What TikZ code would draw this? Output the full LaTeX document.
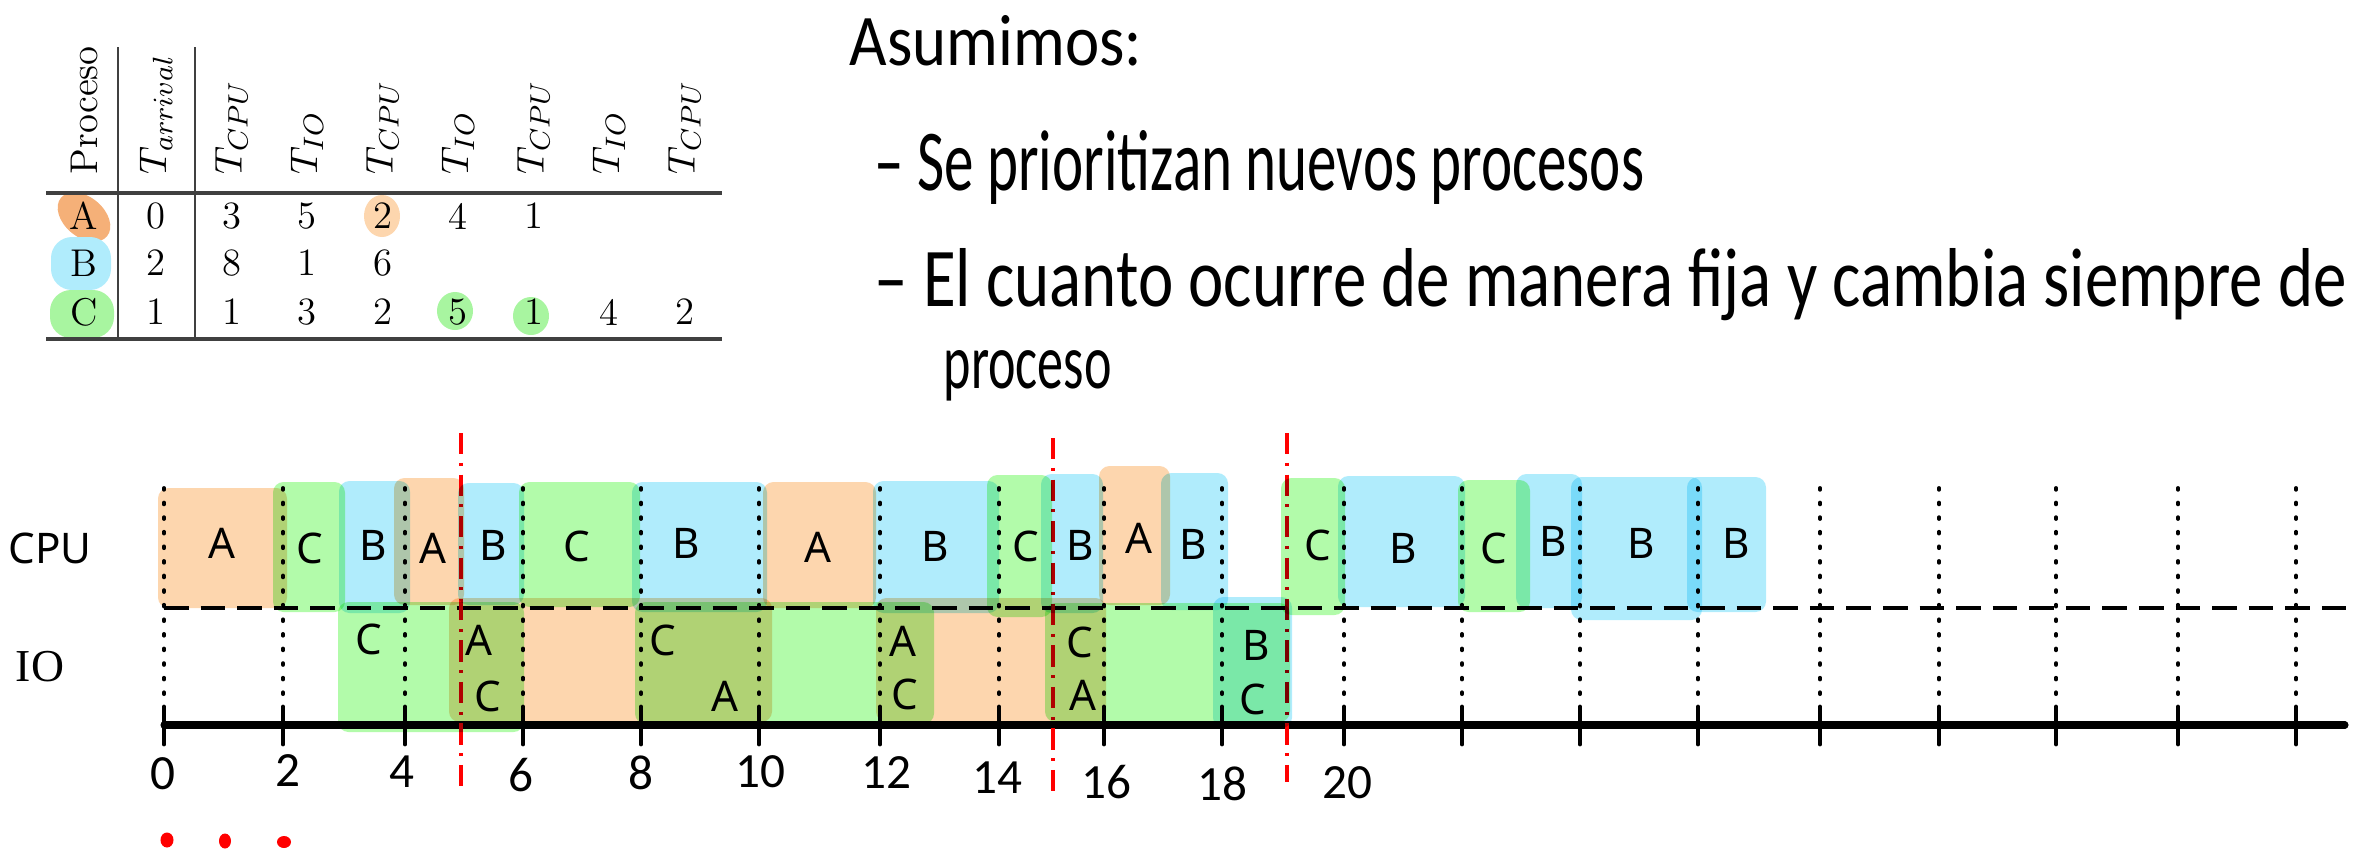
\documentclass[tikz,border=0pt]{standalone}
\usepackage{graphicx}
\usepackage{fontspec}
\newfontfamily\sansf{Noto Sans}
\newfontfamily\seriff{Liberation Serif}
\newfontfamily\handf{Carlito}
\definecolor{ora}{RGB}{253,214,174}
\definecolor{grn}{RGB}{178,251,170}
\definecolor{blu}{RGB}{176,236,252}
\definecolor{oradk}{RGB}{245,176,120}
\definecolor{grntab}{RGB}{168,245,160}

\begin{document}
\begin{tikzpicture}[x=0.01cm,y=-0.01cm,
        blk/.style={rounded corners=3pt,blend mode=multiply},
        lbl/.style={font=\sansf\fontsize{12}{14}\selectfont,inner sep=0pt},
        tab/.style={font=\fontsize{11}{13}\selectfont,inner sep=0pt},
        hand/.style={font=\handf,inner sep=0pt,anchor=base west},
        numlbl/.style={font=\handf\fontsize{14}{14}\selectfont,inner sep=0pt},
        dotline/.style={line width=1.1pt,line cap=round,dash pattern=on 0.5pt off 3.65pt},
        redline/.style={red,line width=1pt,dash pattern=on 6pt off 2.5pt on 0.8pt off 2.5pt}]
    \useasboundingbox (0,0) rectangle (2355,851);

    % tabla
    \fill[oradk,rotate around={-40:(84,217)}] (84,217) ellipse [x radius=0.3cm,y radius=0.2cm];
    \fill[blu,rounded corners=6pt] (51,237) rectangle (111,290);
    \fill[grntab,rounded corners=6pt] (50,290) rectangle (114,338);
    \fill[ora] (382,216) ellipse [x radius=0.18cm,y radius=0.21cm];
    \fill[grntab] (455,311) ellipse [x radius=0.18cm,y radius=0.19cm];
    \fill[grntab] (531,316) ellipse [x radius=0.18cm,y radius=0.19cm];
    \draw[line width=0.9pt,black!75] (46,193) -- (722,193) (46,339) -- (722,339);
    \draw[line width=0.5pt,black!75] (118,47) -- (118,340) (195,47) -- (195,340);
    \node[tab,rotate=90,anchor=west] (hproc) at (84,175) {Proceso};
    \node[tab,rotate=90,anchor=west] (harr) at (156,175) {$T_{arrival}$};
    \foreach \t [count=\i] in {CPU,IO,CPU,IO,CPU,IO,CPU}
        \node[tab,rotate=90,anchor=west] (h\i) at ({156+75.5*\i},175) {$T_{\t}$};
    \foreach \r/\y/\vals in {A/216/{0,3,5,2,4,1},B/263/{2,8,1,6},C/312/{1,1,3,2,5,1,4,2}} {
        \node[tab] (p\r) at (84,\y) {\r};
        \foreach \v [count=\j] in \vals
            \node[tab] (\r\j) at ({156+75.5*(\j-1)},\y) {\v};
    }

    % texto
    \node[hand] (asum) at (849,65) {\resizebox{2.92cm}{0.5cm}{Asumimos:}};
    \node[hand] (item1) at (874,190) {\resizebox{7.69cm}{0.6cm}{– Se prioritizan nuevos procesos}};
    \node[hand] (item2) at (874,306) {\resizebox{14.71cm}{0.58cm}{– El cuanto ocurre de manera fija y cambia siempre de}};
    \node[hand] (item3) at (943,388) {\resizebox{1.68cm}{0.38cm}{proceso}};

    % lineas
    \draw[line width=1pt,dash pattern=on 7pt off 3.4pt] (164,608) -- (2355,608);
    \draw[line width=2pt,line cap=round] (164,725) -- (2345,725);
    \foreach \x in {164,283,405,523,641,759,880,999,1104,1222,1344,1462,1580,1698,1820,1939,2056,2178,2296} {
        \draw[line width=1.4pt,line cap=round] (\x,707) -- (\x,744);
        \draw[dotline] (\x,488) -- (\x,704);
    }
    \draw[redline] (461,433) -- (461,790);
    \draw[redline] (1053,438) -- (1053,793);
    \draw[redline] (1287,433) -- (1287,782);

    % bloques
    \foreach \xa/\xb/\ya/\yb/\col in {158/287/488/608/ora,273/345/482/612/grn,339/410/481/613/blu,
            394/464/478/605/ora,458/524/483/605/blu,519/640/482/607/grn,632/767/482/612/blu,
            763/876/482/608/ora,873/999/481/613/blu,987/1052/475/617/grn,1041/1103/474/613/blu,
            1099/1170/466/605/ora,1161/1228/473/610/blu,1281/1345/478/615/grn,1338/1465/476/607/blu,
            1458/1530/480/612/grn,1516/1582/474/608/blu,1571/1702/477/620/blu,1687/1766/477/612/blu,
            338/524/602/732/grn,449/772/598/722/ora,635/934/602/724/grn,876/1106/598/722/ora,
            1045/1290/603/722/grn,1213/1292/597/728/blu}
        \fill[blk,\col] (\xa,\ya) rectangle (\xb,\yb);

    \foreach \x/\y/\t [count=\i] in {222/543/A,310/548/C,373/545/B,433/548/A,493/545/B,577/546/C,
            686/543/B,818/547/A,935/546/B,1026/546/C,1080/545/B,1139/538/A,1193/544/B,
            1318/545/C,1403/548/B,1494/548/C,1553/541/B,1641/543/B,1736/543/B}
        \node[lbl] (cpu\i) at (\x,\y) {\t};
    \foreach \x/\y/\t [count=\i] in {369/639/C,479/640/A,488/696/C,663/640/C,725/696/A,
            903/641/A,905/694/C,1080/642/C,1083/695/A,1256/645/B,1253/699/C}
        \node[lbl] (io\i) at (\x,\y) {\t};

    \node[lbl] (lcpu) at (50,548) {CPU};
    \node[font=\seriff\fontsize{13}{14}\selectfont,inner sep=0pt] (lio) at (40,667) {IO};

    \foreach \x/\y/\t in {163/774/0,288/771/2,402/772/4,521/775/6,641/773/8,760/772/10,
            886/773/12,997/778/14,1106/782/16,1222/784/18,1347/783/20}
        \node[numlbl] (n\t) at (\x,\y) {\t};

    \fill[red] (167,840) ellipse [x radius=0.065cm,y radius=0.075cm];
    \fill[red] (225,841) ellipse [x radius=0.06cm,y radius=0.075cm];
    \fill[red] (284,842) ellipse [x radius=0.07cm,y radius=0.06cm];
\end{tikzpicture}
\end{document}
